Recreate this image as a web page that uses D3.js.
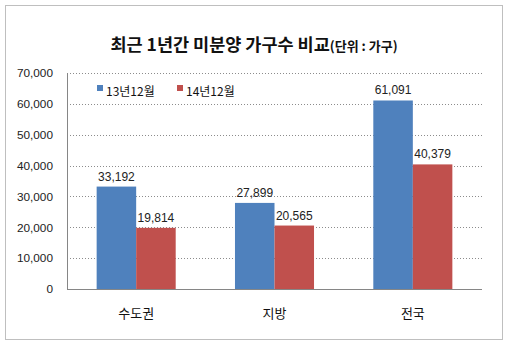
<!DOCTYPE html>
<html><head><meta charset="utf-8">
<script src="https://cdn.jsdelivr.net/npm/d3@7"></script>
<style>body{margin:0;background:#fff}</style>
</head><body>
<svg id="c" width="509" height="347"></svg>
<script>
const categories = ["수도권", "지방", "전국"];
const seriesNames = ["13년12월", "14년12월"];
const values13 = [33192, 27899, 61091];
const values14 = [19814, 20565, 40379];
const yTicks = [0, 10000, 20000, 30000, 40000, 50000, 60000, 70000];
const colors = ["#4F81BD", "#C0504D"];

(function () {
const svg = d3.select("#c");
const font = "'Malgun Gothic','Noto Sans CJK KR',sans-serif";
svg.append("rect").attr("x", 5.5).attr("y", 5.5).attr("width", 497).attr("height", 334)
  .attr("fill", "#fff").attr("stroke", "#bfbfbf");

const t = svg.append("text").attr("x", 254).attr("y", 51).attr("text-anchor", "middle")
  .attr("font-family", font).attr("fill", "#111");
t.append("tspan").attr("font-size", 17.5).attr("font-weight", "bold").text("최근 1년간 미분양 가구수 비교");
t.append("tspan").attr("font-size", 13).attr("font-weight", "bold").text("(단위 : 가구)");

const pL = 67, pR = 482, pT = 73, pB = 289;
const y = d3.scaleLinear().domain([0, 70000]).range([pB, pT]);
const x0 = d3.scaleBand().domain(categories).range([pL, pR]).padding(0);
const x1 = d3.scaleBand().domain(seriesNames).range([0, x0.bandwidth()]).paddingInner(0).paddingOuter(0.75);

const yAxis = d3.axisLeft(y).tickValues(yTicks).tickSize(0).tickPadding(14)
  .tickFormat(d3.format(","));
const ga = svg.append("g").attr("transform", `translate(${pL},0)`).call(yAxis);
ga.select(".domain").remove();
ga.selectAll("text").attr("font-family", "Arial, 'Liberation Sans', sans-serif").attr("font-size", 11.8).attr("fill", "#222");

svg.append("g").selectAll("line").data(yTicks.filter(d => d > 0)).join("line")
  .attr("x1", pL).attr("x2", pR).attr("y1", d => Math.round(y(d)) + 0.5).attr("y2", d => Math.round(y(d)) + 0.5)
  .attr("stroke", "#8c8c8c").attr("stroke-dasharray", "1,2");

const data = categories.map((c, i) => ({ c, v: [values13[i], values14[i]] }));
const g = svg.append("g");
data.forEach(d => {
  d.v.forEach((v, j) => {
    const xx = x0(d.c) + x1(seriesNames[j]);
    g.append("rect").attr("x", xx).attr("y", y(v)).attr("width", x1.bandwidth()).attr("height", pB - y(v))
      .attr("fill", colors[j]);
    g.append("text").attr("x", xx + x1.bandwidth() / 2).attr("y", y(v) - 6).attr("text-anchor", "middle")
      .attr("font-family", "Arial, 'Liberation Sans', sans-serif").attr("font-size", 12).attr("fill", "#222")
      .text(d3.format(",")(v));
  });
});

svg.append("line").attr("x1", pL + 0.5).attr("x2", pL + 0.5).attr("y1", pT).attr("y2", pB).attr("stroke", "#868686");
svg.append("line").attr("x1", pL).attr("x2", pR).attr("y1", pB + 0.5).attr("y2", pB + 0.5).attr("stroke", "#868686");

const xAxis = d3.axisBottom(x0).tickSize(0).tickPadding(20);
const gx = svg.append("g").attr("transform", `translate(0,${pB})`).call(xAxis);
gx.select(".domain").remove();
gx.selectAll("text").attr("font-family", font).attr("font-size", 13).attr("fill", "#111");

const legX = [97, 177];
seriesNames.forEach((s, i) => {
  svg.append("rect").attr("x", legX[i]).attr("y", 85).attr("width", 6).attr("height", 6).attr("fill", colors[i]);
  svg.append("text").attr("x", legX[i] + 9).attr("y", 96).attr("font-family", font).attr("font-size", 12)
    .attr("fill", "#111").text(s);
});
})();
</script>
</body></html>
